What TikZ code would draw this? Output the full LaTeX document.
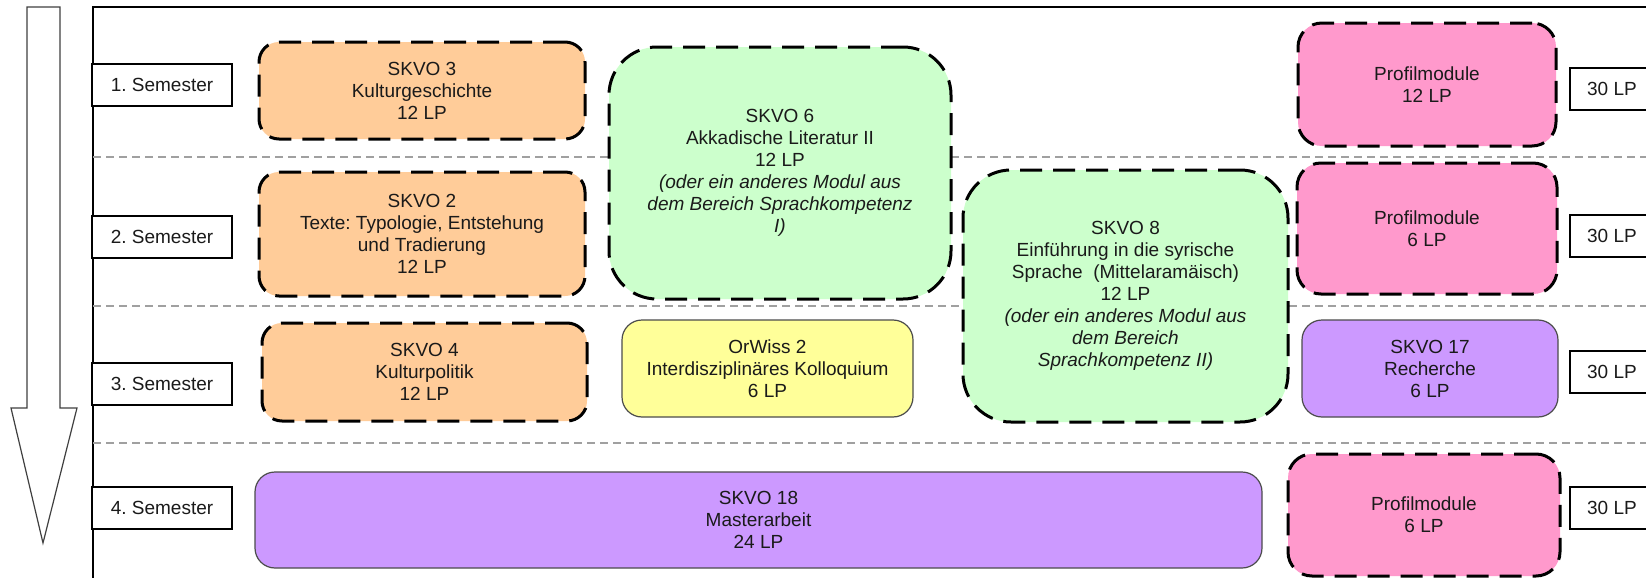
\documentclass[tikz,border=0pt]{standalone}
\usepackage{fontspec}
\setmainfont{Liberation Sans}
\frenchspacing
\definecolor{cOrange}{HTML}{FFCC99}
\definecolor{cGreen}{HTML}{CCFFCC}
\definecolor{cYellow}{HTML}{FFFF99}
\definecolor{cPink}{HTML}{FF99CC}
\definecolor{cPurple}{HTML}{CC99FF}
\definecolor{cLine}{HTML}{A0A0A0}
\definecolor{cTxt}{HTML}{1A1A1A}
\begin{document}
\begin{tikzpicture}[x=0.5pt,y=-0.5pt,
  every node/.style={font=\fontsize{9.5}{11}\selectfont, text=cTxt, align=center, inner sep=0pt},
  modbox/.style={draw=black, line width=1.5pt, dash pattern=on 11pt off 5.5pt, rounded corners=#1},
  modbox/.default=10pt,
  solidbox/.style={draw=black!70, line width=0.6pt, rounded corners=10pt},
  sembox/.style={draw=black, line width=0.7pt, fill=white, minimum width=70pt, minimum height=21pt},
  lpbox/.style={draw=black, line width=0.7pt, fill=white, minimum width=42pt, minimum height=21pt},
  rowline/.style={draw=cLine, line width=0.8pt, dash pattern=on 4pt off 2.5pt}]
\useasboundingbox (0,0) rectangle (1646,578);
\clip (0,0) rectangle (1646,578);
\fill[white] (0,0) rectangle (1646,578);
% arrow
\draw[black!75, line width=0.6pt] (27,7) -- (60,7) -- (60,408) -- (77,408) -- (43,543) -- (11,408) -- (27,408) -- cycle;
% frame
\coordinate (ftl) at (93,7);
\coordinate (ftr) at (1700,7);
\coordinate (fbl) at (93,600);
\draw[black, line width=0.6pt] (fbl) -- (ftl) -- (ftr);
% row separators
\coordinate (l1a) at (93,157); \coordinate (l1b) at (1646,157);
\coordinate (l2a) at (93,306); \coordinate (l2b) at (1646,306);
\coordinate (l3a) at (93,443); \coordinate (l3b) at (1646,443);
\draw[rowline] (l1a) -- (l1b);
\draw[rowline] (l2a) -- (l2b);
\draw[rowline] (l3a) -- (l3b);
% semester labels
\node[sembox] (s1) at (162,85) {1. Semester};
\node[sembox] (s2) at (162,237) {2. Semester};
\node[sembox] (s3) at (162,384) {3. Semester};
\node[sembox] (s4) at (162,508) {4. Semester};
% LP labels
\node[lpbox] (p1) at (1612,89) {30 LP};
\node[lpbox] (p2) at (1612,236) {30 LP};
\node[lpbox] (p3) at (1612,372) {30 LP};
\node[lpbox] (p4) at (1612,508) {30 LP};
% modules
\node[modbox, fill=cOrange, minimum width=163pt, minimum height=48.5pt] (skvo3) at (422,90.5) {SKVO 3\\Kulturgeschichte\\12 LP};
\node[modbox, fill=cOrange, minimum width=163pt, minimum height=62pt] (skvo2) at (422,234) {SKVO 2\\Texte: Typologie, Entstehung\\und Tradierung\\12 LP};
\node[modbox, fill=cOrange, minimum width=162.5pt, minimum height=49pt] (skvo4) at (424.5,372) {SKVO 4\\Kulturpolitik\\12 LP};
\node[modbox=24pt, fill=cGreen, minimum width=171pt, minimum height=126pt] (skvo6) at (780,173) {SKVO 6\\Akkadische Literatur II\\12 LP\\\textit{(oder ein anderes Modul aus}\\\textit{dem Bereich Sprachkompetenz}\\\textit{I)}};
\node[solidbox, fill=cYellow, minimum width=145.5pt, minimum height=48.5pt] (orw) at (767.5,368.5) {OrWiss 2\\Interdisziplinäres Kolloquium\\6 LP};
\node[modbox=24pt, fill=cGreen, minimum width=162.5pt, minimum height=126pt] (skvo8) at (1125.5,296) {SKVO 8\\Einführung in die syrische\\Sprache \ (Mittelaramäisch)\\12 LP\\\textit{(oder ein anderes Modul aus}\\\textit{dem Bereich}\\\textit{Sprachkompetenz II)}};
\node[modbox=12pt, fill=cPink, minimum width=129pt, minimum height=61.5pt] (prof1) at (1427,84.5) {Profilmodule\\12 LP};
\node[modbox=12pt, fill=cPink, minimum width=130pt, minimum height=65.5pt] (prof2) at (1427,228.5) {Profilmodule\\6 LP};
\node[solidbox, fill=cPurple, minimum width=128pt, minimum height=48.5pt] (skvo17) at (1430,368.5) {SKVO 17\\Recherche\\6 LP};
\node[solidbox, fill=cPurple, minimum width=503.5pt, minimum height=48pt] (skvo18) at (758.5,520) {SKVO 18\\Masterarbeit\\24 LP};
\node[modbox=12pt, fill=cPink, minimum width=136pt, minimum height=61pt] (prof4) at (1424,515) {Profilmodule\\6 LP};
\end{tikzpicture}
\end{document}
